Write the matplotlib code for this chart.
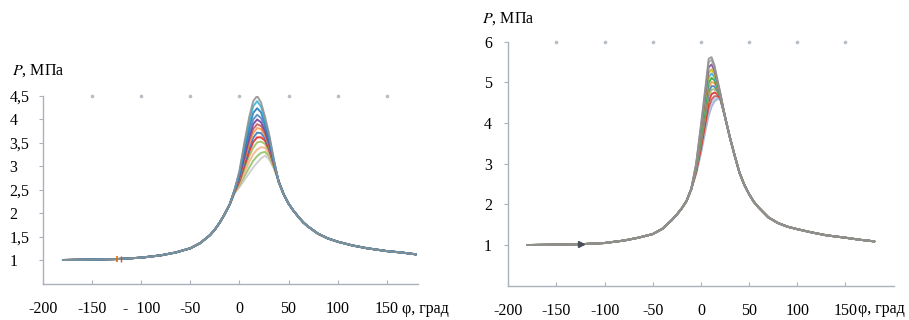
import matplotlib
matplotlib.use("Agg")
import matplotlib.pyplot as plt

plt.rcParams['font.family'] = ['Liberation Serif', 'DejaVu Serif']

# --- left panel: shared tails and the spread of curves around the peak ---
phi_left_lo = [-180, -150, -125, -100, -80, -65, -50, -40, -30, -25, -20, -15, -10]
p_left_lo = [1.00, 1.01, 1.02, 1.05, 1.10, 1.16, 1.25, 1.36, 1.53, 1.65, 1.80, 1.98, 2.18]
phi_left_mid = [-5, 0, 5, 10, 14, 18, 22, 26, 30, 35, 40]
p_left_mid = [
    [2.50, 2.90, 3.50, 4.05, 4.38, 4.49, 4.35, 4.05, 3.70, 3.15, 2.65],
    [2.49, 2.87, 3.44, 3.95, 4.27, 4.38, 4.26, 3.98, 3.66, 3.13, 2.65],
    [2.49, 2.84, 3.36, 3.83, 4.13, 4.23, 4.14, 3.90, 3.60, 3.11, 2.66],
    [2.48, 2.80, 3.28, 3.71, 3.99, 4.09, 4.02, 3.82, 3.55, 3.09, 2.66],
    [2.47, 2.78, 3.22, 3.63, 3.89, 3.99, 3.93, 3.76, 3.51, 3.08, 2.66],
    [2.47, 2.75, 3.16, 3.55, 3.79, 3.89, 3.85, 3.70, 3.47, 3.07, 2.66],
    [2.46, 2.73, 3.12, 3.47, 3.70, 3.81, 3.78, 3.65, 3.44, 3.05, 2.66],
    [2.46, 2.71, 3.06, 3.39, 3.60, 3.71, 3.70, 3.59, 3.40, 3.04, 2.67],
    [2.45, 2.68, 3.00, 3.31, 3.51, 3.61, 3.61, 3.54, 3.36, 3.03, 2.67],
    [2.44, 2.66, 2.94, 3.21, 3.39, 3.50, 3.52, 3.47, 3.32, 3.01, 2.67],
    [2.44, 2.62, 2.86, 3.09, 3.25, 3.35, 3.40, 3.39, 3.26, 2.99, 2.67],
    [2.43, 2.59, 2.78, 2.97, 3.11, 3.21, 3.28, 3.30, 3.21, 2.97, 2.68],
    [2.42, 2.55, 2.70, 2.85, 2.97, 3.07, 3.16, 3.22, 3.15, 2.95, 2.68],
]
phi_left_hi = [45, 50, 55, 60, 65, 70, 80, 90, 100, 115, 130, 150, 165, 180]
p_left_hi = [2.40, 2.20, 2.05, 1.92, 1.80, 1.71, 1.56, 1.46, 1.39, 1.31, 1.25, 1.19, 1.16, 1.12]
left_colors = ['#8E8E8E', '#31B0D5', '#1F77B4', '#4F81BD', '#7030A0', '#C0504D',
               '#F79646', '#2E75B6', '#E41A1C', '#9BBB59', '#F4B183', '#8DC063', '#C8C8C8']

# --- right panel ---
phi_right_lo = [-180, -150, -125, -100, -80, -65, -50, -40, -30, -25, -20, -15, -10]
p_right_lo = [1.00, 1.01, 1.02, 1.05, 1.11, 1.18, 1.27, 1.40, 1.62, 1.75, 1.90, 2.08, 2.38]
phi_right_mid = [-5, 0, 5, 8, 11, 14, 17, 20]
p_right_mid = [
    [3.00, 3.95, 4.95, 5.58, 5.62, 5.42, 5.08, 4.75],
    [2.99, 3.91, 4.88, 5.50, 5.55, 5.37, 5.05, 4.74],
    [2.96, 3.85, 4.79, 5.37, 5.44, 5.29, 5.01, 4.72],
    [2.94, 3.78, 4.68, 5.23, 5.32, 5.20, 4.96, 4.71],
    [2.92, 3.72, 4.59, 5.12, 5.22, 5.13, 4.92, 4.69],
    [2.90, 3.66, 4.49, 4.99, 5.11, 5.05, 4.87, 4.68],
    [2.88, 3.60, 4.40, 4.88, 5.01, 4.98, 4.84, 4.67],
    [2.86, 3.54, 4.31, 4.77, 4.91, 4.90, 4.80, 4.65],
    [2.84, 3.49, 4.22, 4.66, 4.82, 4.83, 4.76, 4.64],
    [2.81, 3.43, 4.13, 4.53, 4.71, 4.75, 4.71, 4.62],
    [2.79, 3.36, 4.02, 4.39, 4.58, 4.66, 4.66, 4.61],
    [2.77, 3.30, 3.93, 4.28, 4.49, 4.59, 4.62, 4.59],
    [2.75, 3.25, 3.85, 4.18, 4.40, 4.53, 4.59, 4.58],
]
phi_right_hi = [25, 30, 35, 40, 45, 50, 55, 60, 70, 80, 90, 100, 115, 130, 150, 165, 180]
p_right_hi = [4.15, 3.65, 3.20, 2.78, 2.48, 2.25, 2.06, 1.92, 1.68, 1.54, 1.45, 1.39,
              1.31, 1.24, 1.18, 1.13, 1.09]
right_colors = ['#8E8E8E', '#A5A5A5', '#7F3F98', '#C9B400', '#31B0D5', '#2CA02C',
                '#F79646', '#4472C4', '#9BBB59', '#E31A1C', '#C0504D', '#B4C7E7', '#9DA9C6']

x_ticks = [-200, -150, -100, -50, 0, 50, 100, 150]
x_labels_left = ['-200', '-150', '-  100', '-50', '0', '50', '100', '150']
x_labels_right = ['-200', '-150', '-100', '-50', '0', '50', '100', '150']
y_ticks_left = [1, 1.5, 2, 2.5, 3, 3.5, 4, 4.5]
y_labels_left = ['1', '1,5', '2', '2,5', '3', '3,5', '4', '4,5']
y_ticks_right = [1, 2, 3, 4, 5, 6]
y_labels_right = ['1', '2', '3', '4', '5', '6']

FS = 11.5
W, H = 909, 320
fig = plt.figure(figsize=(W / 100, H / 100), dpi=100)

def px_box(x0, y_top, x1, y_bot):
    return [x0 / W, 1 - y_bot / H, (x1 - x0) / W, (y_bot - y_top) / H]

ax1 = fig.add_axes(px_box(43.3, 95.5, 418.0, 283.5))
ax2 = fig.add_axes(px_box(508.3, 41.7, 893.6, 285.7))

def draw_family(ax, phi_lo, p_lo, phi_mid, rows, phi_hi, p_hi, colors):
    phi = phi_lo + phi_mid + phi_hi
    # lowest curve first so the grey outer curve ends up on top
    for row, c in reversed(list(zip(rows, colors))):
        ax.plot(phi, p_lo + row + p_hi, color=c, lw=1.4, alpha=0.85,
                solid_joinstyle='round', solid_capstyle='round')

def style_axes(ax, xlim, ylim, yt, yl, xl):
    ax.set_xlim(*xlim)
    ax.set_ylim(*ylim)
    for s in ('top', 'right'):
        ax.spines[s].set_visible(False)
    for s in ('left', 'bottom'):
        ax.spines[s].set_color('#A9B2BC')
        ax.spines[s].set_linewidth(1.0)
    ax.set_xticks(x_ticks)
    ax.set_xticklabels(xl, fontsize=FS)
    ax.set_yticks(yt)
    ax.set_yticklabels(yl, fontsize=FS)
    ax.tick_params(axis='x', direction='in', length=3, color='#A9B2BC', pad=12.5)
    ax.tick_params(axis='y', direction='out', length=3, color='#A9B2BC')
    # dotted marks along the top edge at every x tick
    ax.plot(x_ticks[1:], [ylim[1]] * (len(x_ticks) - 1), ls='none', marker='o',
            ms=1.6, color='#B8BEC6', clip_on=False)

draw_family(ax1, phi_left_lo, p_left_lo, phi_left_mid, p_left_mid,
            phi_left_hi, p_left_hi, left_colors)
draw_family(ax2, phi_right_lo, p_right_lo, phi_right_mid, p_right_mid,
            phi_right_hi, p_right_hi, right_colors)

# small series markers on the flat part of the curves
ax1.plot([phi_left_lo[2]], [p_left_lo[2]], marker='|', ms=5, color='#E46C0A', mew=1.2)
ax1.plot([phi_left_lo[2] + 4], [p_left_lo[2]], marker='|', ms=4, color='#C0504D', mew=1.0)
ax2.plot([phi_right_lo[2]], [p_right_lo[2]], marker='>', ms=5, color='#4A4F5A')

style_axes(ax1, (-200, 182), (0.5, 4.5), y_ticks_left, y_labels_left, x_labels_left)
style_axes(ax2, (-200, 200), (0, 6), y_ticks_right, y_labels_right, x_labels_right)

for lbl in ax1.get_yticklabels():
    lbl.set_horizontalalignment('left')
ax1.tick_params(axis='y', pad=21.5)
ax2.tick_params(axis='y', pad=8.7)

def fig_text(x, y, s, **kw):
    fig.text(x / W, 1 - y / H, s, fontsize=FS, va='baseline', **kw)

# axis titles
fig_text(12, 75, r'$\mathit{P}$, МПа', math_fontfamily='stix')
fig_text(482, 23, r'$\mathit{P}$, МПа', math_fontfamily='stix')
fig_text(402, 313, 'φ, град')
fig_text(858, 313, 'φ, град')

fig.savefig('out.png', dpi=100)
